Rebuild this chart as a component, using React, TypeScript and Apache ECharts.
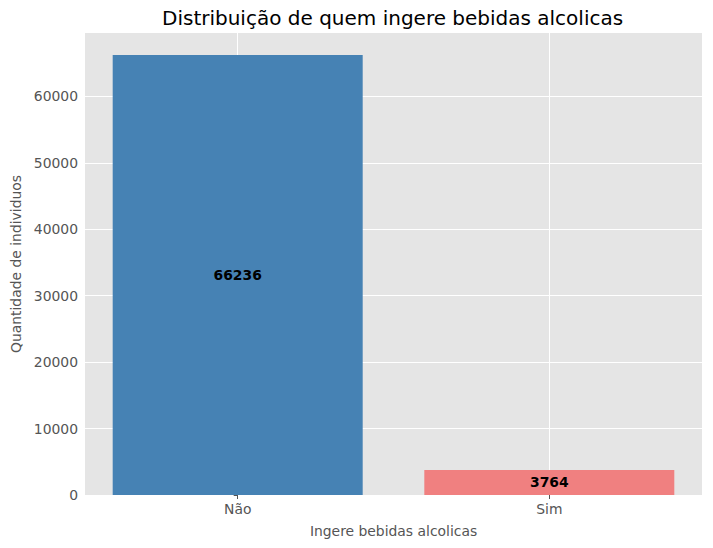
import React, { useEffect, useRef } from "react";
import * as echarts from "echarts";

const categories = ["Não", "Sim"];
const values = [66236, 3764];
const barColors = ["#4682B4", "#F08080"];
const yTicks = [0, 10000, 20000, 30000, 40000, 50000, 60000];
const xPositions = [0, 1];

const FONT = "DejaVu Sans";
const FS = 13.9;

export default function App() {
  const ref = useRef<HTMLDivElement>(null);
  useEffect(() => {
    if (!ref.current) return;
    const chart = echarts.init(ref.current, undefined, { renderer: "svg" });
    chart.setOption({
      animation: false,
      textStyle: { fontFamily: FONT },
      title: {
        text: "Distribuição de quem ingere bebidas alcolicas",
        left: 157,
        top: 3,
        textStyle: { fontFamily: FONT, fontSize: 20, fontWeight: "normal", color: "#000" },
      },
      grid: {
        left: 85,
        right: 11,
        top: 33,
        bottom: 53,
        show: true,
        backgroundColor: "#E5E5E5",
        borderWidth: 0,
        containLabel: false,
        outerBoundsMode: "none",
      },
      xAxis: {
        type: "value",
        min: -0.49,
        max: 1.49,
        name: "Ingere bebidas alcolicas",
        nameLocation: "middle",
        nameGap: 29,
        nameTextStyle: { fontFamily: FONT, fontSize: FS, color: "#555" },
        axisLine: { show: false },
        axisTick: { show: true, customValues: xPositions, length: 4, lineStyle: { color: "#555" } },
        axisLabel: {
          customValues: xPositions,
          fontFamily: FONT,
          fontSize: FS,
          color: "#555",
          margin: 7,
          formatter: (v: number) => categories[Math.round(v)] ?? "",
        },
        splitLine: { show: false },
      },
      yAxis: {
        type: "value",
        min: 0,
        max: 69548,
        name: "Quantidade de individuos",
        nameLocation: "middle",
        nameGap: 60,
        nameTextStyle: { fontFamily: FONT, fontSize: FS, color: "#555" },
        axisLine: { show: false },
        axisTick: { show: true, customValues: yTicks, length: 4, lineStyle: { color: "#555" } },
        axisLabel: {
          customValues: yTicks,
          fontFamily: FONT,
          fontSize: FS,
          color: "#555",
          margin: 7,
          formatter: (v: number) => String(v),
        },
        splitLine: { show: true, lineStyle: { color: "#FFFFFF", width: 1 } },
        interval: 10000,
      },
      series: [
        {
          type: "line",
          data: [],
          z: 1,
          silent: true,
          markLine: {
            z: 1,
            silent: true,
            symbol: "none",
            label: { show: false },
            lineStyle: { color: "#FFFFFF", width: 1, type: "solid" },
            data: xPositions.map((x) => ({ xAxis: x })),
          },
        },
        {
          type: "bar",
          z: 3,
          barWidth: 250,
          data: values.map((v, i) => ({ value: [xPositions[i], v], itemStyle: { color: barColors[i] } })),
          label: {
            show: true,
            position: "inside",
            fontFamily: FONT,
            fontSize: FS,
            fontWeight: "bold",
            color: "#000",
            formatter: (p: any) => String(p.value[1]),
          },
        },
      ],
    });
    return () => chart.dispose();
  }, []);
  return <div ref={ref} style={{ width: 713, height: 548, margin: -8 }} />;
}
